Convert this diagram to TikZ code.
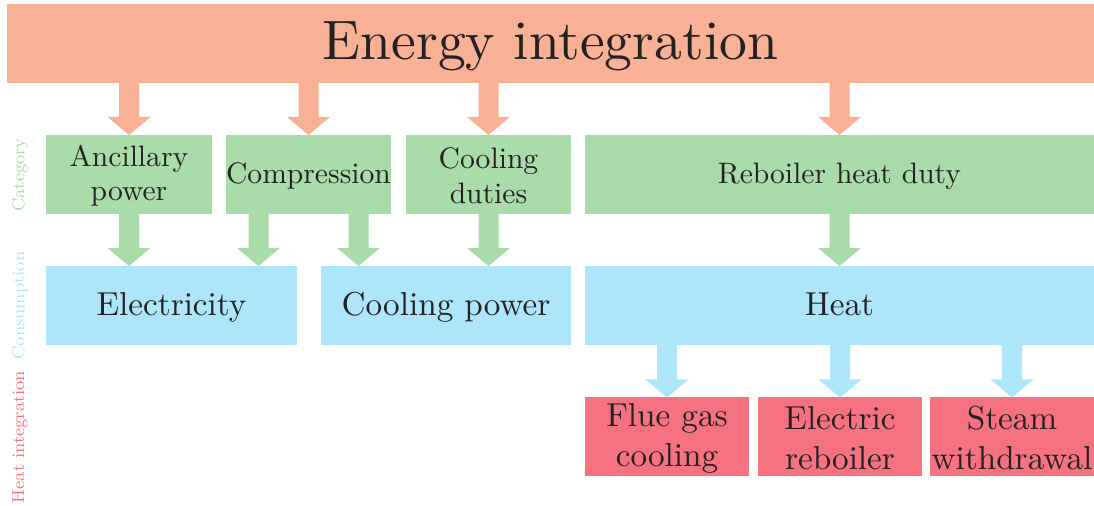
\documentclass[tikz,border=0pt]{standalone}
\usepackage{fontspec}
\setmainfont{lmroman10-regular}[Extension=.otf]
\newfontfamily\sidefont{lmroman8-regular}[Extension=.otf]
\usetikzlibrary{calc}
\definecolor{corange}{HTML}{F8B195}
\definecolor{cgreen}{HTML}{A8DCA8}
\definecolor{cblue}{HTML}{ADE6FB}
\definecolor{cred}{HTML}{F67280}
\definecolor{ctext}{HTML}{222222}
\newcommand\fatarrow[3]{%
  \fill[#1] let \p1=(#2), \p2=(#3) in
    (\x1-5pt,\y1) -- (\x1-5pt,\y2+9pt) -- (\x1-10.75pt,\y2+9pt) -- (\x1,\y2)
    -- (\x1+10.75pt,\y2+9pt) -- (\x1+5pt,\y2+9pt) -- (\x1+5pt,\y1) -- cycle;}
\begin{document}
\begin{tikzpicture}[x=0.5pt,y=-0.5pt,
  box/.style={inner sep=0pt,outer sep=0pt,text=ctext,minimum height=39.5pt},
  multi/.style={align=center},
  catbox/.style={box,fill=cgreen,font=\fontsize{14.8}{17.3}\selectfont},
  catone/.style={catbox,text height=10.3pt,text depth=1.5pt},
  conbox/.style={box,fill=cblue,font=\fontsize{16.6}{20}\selectfont,text height=11.5pt,text depth=1pt},
  heatbox/.style={box,multi,fill=cred,font=\fontsize{16.6}{20}\selectfont},
  sidelabel/.style={rotate=90,inner sep=0pt,font=\sidefont\fontsize{8.7}{10}\selectfont}]
\useasboundingbox (0,0) rectangle (1094,506);
% title
\node[box,fill=corange,minimum width=543.5pt,font=\fontsize{27.8}{33}\selectfont,text height=19.3pt,text depth=2.8pt] (title) at (550.5,43.5) {Energy integration};
% category row
\node[catbox,multi,minimum width=83pt] (anc) at (129,174.5) {\rule{0pt}{11.8pt}Ancillary\\power};
\node[catone,minimum width=82.5pt] (comp) at (308.5,174.5) {Compression};
\node[catbox,multi,minimum width=82.5pt] (cool) at (488.5,174.5) {\rule{0pt}{11.8pt}Cooling\\duties};
\node[catone,minimum width=254.5pt] (reb) at (839.5,174.5) {Reboiler heat duty};
% consumption row
\node[conbox,minimum width=125.5pt] (elec) at (171.5,305.5) {Electricity};
\node[conbox,minimum width=125pt] (cpow) at (446,305.5) {Cooling power};
\node[conbox,minimum width=254.5pt] (heat) at (839.5,305.5) {Heat};
% heat integration row
\node[heatbox,minimum width=82pt] (flue) at (667,437) {\rule{0pt}{13pt}Flue gas\\cooling};
\node[heatbox,minimum width=82pt] (erb) at (840,437) {\rule{0pt}{13pt}Electric\\reboiler};
\node[heatbox,minimum width=82pt] (steam) at (1012,437) {\rule{0pt}{13pt}Steam\\withdrawal};
% side labels
\node[sidelabel,text=cgreen] (lcat) at (20,175) {Category};
\node[sidelabel,text=cblue] (lcon) at (20,305.5) {Consumption};
\node[sidelabel,text=cred] (lheat) at (20,437) {Heat integration};
% arrows from title
\coordinate (c1) at (title.south -| anc.north);
\coordinate (c2) at (title.south -| comp.north);
\coordinate (c3) at (title.south -| cool.north);
\coordinate (c4) at (title.south -| reb.north);
\fatarrow{corange}{c1}{anc.north}
\fatarrow{corange}{c2}{comp.north}
\fatarrow{corange}{c3}{cool.north}
\fatarrow{corange}{c4}{reb.north}
% arrows from category to consumption
\coordinate (g1e) at (anc.south |- elec.north);
\coordinate (g2s) at ($(comp.south)+(-50,0)$);
\coordinate (g2e) at (g2s |- elec.north);
\coordinate (g3s) at ($(comp.south)+(50,0)$);
\coordinate (g3e) at (g3s |- cpow.north);
\coordinate (g4e) at (cool.south |- cpow.north);
\coordinate (g5e) at (reb.south |- heat.north);
\fatarrow{cgreen}{anc.south}{g1e}
\fatarrow{cgreen}{g2s}{g2e}
\fatarrow{cgreen}{g3s}{g3e}
\fatarrow{cgreen}{cool.south}{g4e}
\fatarrow{cgreen}{reb.south}{g5e}
% arrows from heat to heat integration
\coordinate (b1) at (heat.south -| flue.north);
\coordinate (b2) at (heat.south -| erb.north);
\coordinate (b3) at (heat.south -| steam.north);
\fatarrow{cblue}{b1}{flue.north}
\fatarrow{cblue}{b2}{erb.north}
\fatarrow{cblue}{b3}{steam.north}
\end{tikzpicture}
\end{document}
